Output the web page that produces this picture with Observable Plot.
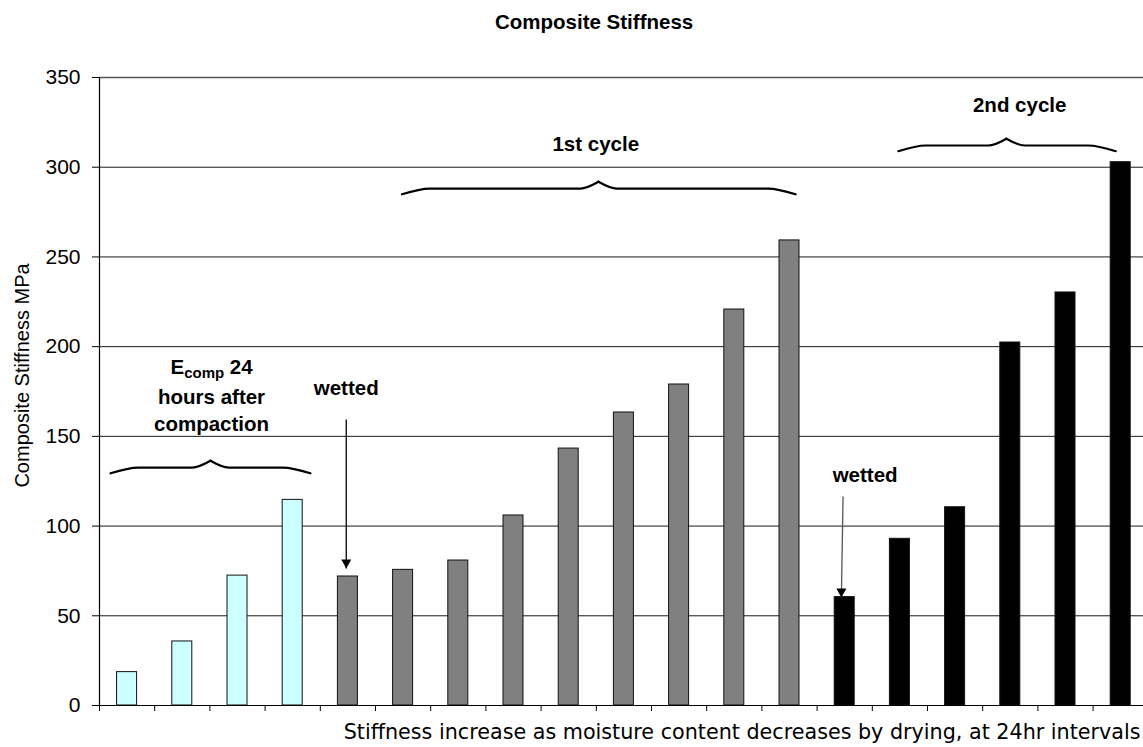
<!DOCTYPE html>
<html>
<head>
<meta charset="utf-8">
<script src="https://cdn.jsdelivr.net/npm/d3@7"></script>
<script src="https://cdn.jsdelivr.net/npm/@observablehq/plot@0.6"></script>
<style>
  html, body { margin: 0; padding: 0; background: #fff; }
  body { width: 1143px; height: 747px; overflow: hidden; font-family: "Liberation Sans", Arial, sans-serif; }
  #title { position: relative; height: 40px; box-sizing: border-box; padding-top: 12px;
           font-size: 20.5px; line-height: 20px; font-weight: bold; color: #000; }
  #title span { position: absolute; left: 495px; }
</style>
</head>
<body>
<div id="title"><span>Composite Stiffness</span></div>
<div id="chart"></div>
<script>
// Composite stiffness (MPa) measured every 24 hours
const compactionValues = [18.6, 35.7, 72.4, 114.6];
const firstCycleValues = [71.9, 75.6, 80.8, 105.9, 143.2, 163.3, 178.9, 220.7, 259.2];
const secondCycleValues = [60.4, 92.9, 110.5, 202.3, 230.2, 302.8];
const groupNames = ["After compaction", "1st cycle", "2nd cycle"];
const groupColors = ["#ccffff", "#808080", "#000000"];
const yTicks = [0, 50, 100, 150, 200, 250, 300, 350];

const bars = [compactionValues, firstCycleValues, secondCycleValues]
  .flatMap((vals, g) => vals.map(v => ({group: groupNames[g], value: v})))
  .map((d, i) => ({...d, index: i}));
const slotBoundaries = d3.range(bars.length + 1);

// Annotation layout in data coordinates (x: slot position, y: MPa)
const braces = [
  {x1: 0.2, x2: 3.82, tip: 2.01, y: 132.6},
  {x1: 5.48, x2: 12.61, tip: 9.04, y: 288.1},
  {x1: 14.47, x2: 18.41, tip: 16.43, y: 312.1}
];
const notes = [
  {x: 2.03, y: 184.9, text: "Ecomp 24"},
  {x: 2.03, y: 168.1, text: "hours after"},
  {x: 2.03, y: 152.9, text: "compaction"},
  {x: 4.47, y: 172.8, text: "wetted"},
  {x: 8.99, y: 308.9, text: "1st cycle"},
  {x: 13.87, y: 124.5, text: "wetted"},
  {x: 16.67, y: 330.7, text: "2nd cycle"}
];
const arrows = [
  {x1: 4.47, y1: 159.4, x2: 4.47, y2: 76.4, color: "#000"},
  {x1: 13.47, y1: 116.5, x2: 13.44, y2: 60.2, color: "#555"}
];

// each brace is drawn as two halves: end hook -> flat run -> centre tip
const braceLines = braces.flatMap((b, k) => {
  const left = [
    {x: b.x1, y: b.y - 3.2}, {x: b.x1 + 0.5, y: b.y},
    {x: b.tip - 0.33, y: b.y}, {x: b.tip, y: b.y + 3.8}
  ].map(p => ({...p, id: `${k}L`}));
  const right = [
    {x: b.tip, y: b.y + 3.8}, {x: b.tip + 0.33, y: b.y},
    {x: b.x2 - 0.5, y: b.y}, {x: b.x2, y: b.y - 3.2}
  ].map(p => ({...p, id: `${k}R`}));
  return [...left, ...right];
});

// filled arrowhead with its tip at the anchor point
const arrowHead = {
  draw(context, size) {
    const r = Math.sqrt(size / Math.PI);
    context.moveTo(0, 0);
    context.lineTo(-r, -1.8 * r);
    context.lineTo(r, -1.8 * r);
    context.closePath();
  }
};

const chart = Plot.plot({
  width: 1143,
  height: 707,
  marginTop: 37,
  marginBottom: 42,
  marginLeft: 99,
  marginRight: 0,
  style: {fontFamily: "Liberation Sans, Arial, sans-serif", background: "#fff", color: "#000"},
  x: {domain: [0, bars.length], range: [99, 1147.8]},
  y: {domain: [0, 350]},
  color: {domain: groupNames, range: groupColors},
  marks: [
    Plot.gridY({ticks: yTicks.filter(t => t > 0 && t < 350), stroke: "#1a1a1a", strokeOpacity: 1, strokeWidth: 1}),
    Plot.ruleY([350], {stroke: "#555", strokeWidth: 1.5}),
    Plot.rectY(bars, {
      x1: d => d.index, x2: d => d.index + 1, y: "value",
      fill: "group", stroke: "#111", strokeWidth: 1,
      insetLeft: 17.6, insetRight: 17.6
    }),
    Plot.axisY({ticks: yTicks, tickSize: 7, tickPadding: 12, fontSize: 21, label: null, stroke: "#000"}),
    Plot.axisX({ticks: slotBoundaries, tickSize: 6, tickFormat: () => "", label: null, stroke: "#000"}),
    Plot.ruleX([0], {stroke: "#000", strokeWidth: 1.2}),
    Plot.ruleY([0], {stroke: "#000", strokeWidth: 1.2}),
    Plot.line(braceLines, {x: "x", y: "y", z: "id", curve: "monotone-x", stroke: "#000", strokeWidth: 2.2}),
    Plot.link(arrows, {x1: "x1", y1: "y1", x2: "x2", y2: "y2", stroke: "color", strokeWidth: 1.3}),
    Plot.dot(arrows, {x: "x2", y: "y2", symbol: arrowHead, r: 5, fill: "#000", stroke: "none"}),
    Plot.text(notes, {x: "x", y: "y", text: "text", lineAnchor: "bottom", textAnchor: "middle",
                      fontSize: 20.5, fontWeight: "bold", fill: "#000"}),
    Plot.text(["Stiffness increase as moisture content decreases by drying, at 24hr intervals"], {
      frameAnchor: "bottom-right", textAnchor: "end", lineAnchor: "bottom",
      dx: -3, dy: 33, fontSize: 20.7, fontFamily: "DejaVu Sans", fill: "#000"
    }),
    Plot.text(["Composite Stiffness MPa"], {
      frameAnchor: "left", rotate: -90, textAnchor: "middle", lineAnchor: "bottom",
      dx: -71, dy: -16, fontSize: 20, fill: "#000"
    })
  ]
});

// subscript for the modulus symbol
chart.querySelectorAll("text").forEach(t => {
  if (t.textContent === "Ecomp 24") {
    t.textContent = "E";
    const sub = document.createElementNS("http://www.w3.org/2000/svg", "tspan");
    sub.setAttribute("font-size", "15px");
    sub.setAttribute("dy", "4");
    sub.textContent = "comp";
    const rest = document.createElementNS("http://www.w3.org/2000/svg", "tspan");
    rest.setAttribute("dy", "-4");
    rest.textContent = " 24";
    t.appendChild(sub);
    t.appendChild(rest);
  }
});

document.getElementById("chart").appendChild(chart);
</script>
</body>
</html>
